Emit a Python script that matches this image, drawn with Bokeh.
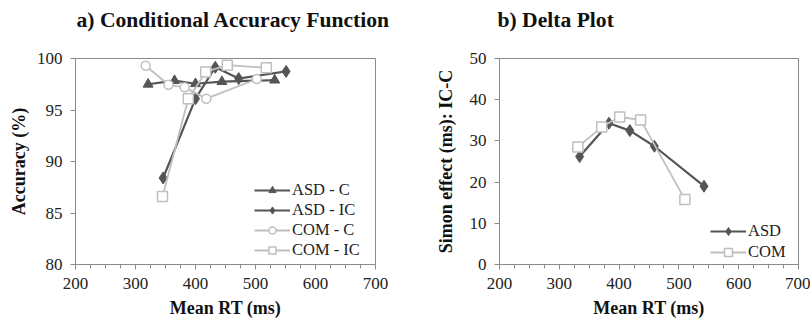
from bokeh.plotting import figure
from bokeh.layouts import row
from bokeh.models import Range1d, FixedTicker
from bokeh.embed import file_html
from bokeh.resources import INLINE

# ---- data: a) Conditional Accuracy Function ----
asd_c_rt = [321, 365, 400, 444, 532]
asd_c_acc = [97.5, 97.85, 97.55, 97.75, 97.9]
asd_ic_rt = [346, 400, 433, 472, 551]
asd_ic_acc = [88.4, 96.1, 99.15, 98.05, 98.75]
com_c_rt = [317, 355, 382, 418, 502]
com_c_acc = [99.3, 97.45, 97.2, 96.1, 98.0]
com_ic_rt = [345, 388, 417, 453, 518]
com_ic_acc = [86.6, 96.1, 98.7, 99.35, 99.1]

# ---- data: b) Delta Plot ----
asd_d_rt = [334, 383, 418, 459, 542]
asd_d_eff = [26.2, 34.3, 32.5, 28.7, 19.0]
com_d_rt = [331, 371, 401, 436, 510]
com_d_eff = [28.5, 33.4, 35.8, 35.1, 15.8]

x_ticks = [200, 300, 400, 500, 600, 700]
x_minor = [v for v in range(200, 701, 25) if v % 100 != 0]
acc_ticks = [80, 85, 90, 95, 100]
eff_ticks = [0, 10, 20, 30, 40, 50]

DARK = "#555555"
LIGHT = "#bfbfbf"
AXIS = "#8a8a8a"
FONT = "Liberation Serif"


def style(p, title, ylabel, yticks, lab_standoff, title_dx):
    # second (blank) line reserves space so the title sits high above the frame
    p.title.text = title + "\n "
    p.title.text_font = FONT
    p.title.text_font_size = "21.6px"
    p.title.text_font_style = "bold"
    p.title.text_color = "#111111"
    p.title.text_line_height = 1.1
    p.title.align = "left"
    p.title.offset = title_dx
    p.title.standoff = 0
    p.grid.visible = False
    p.outline_line_color = AXIS
    p.outline_line_width = 1
    p.background_fill_color = "white"
    p.border_fill_color = "white"
    for ax in (p.xaxis[0], p.yaxis[0]):
        ax.axis_line_color = AXIS
        ax.major_tick_line_color = AXIS
        ax.minor_tick_line_color = AXIS
        ax.major_tick_in = 0
        ax.major_tick_out = 5
        ax.minor_tick_in = 0
        ax.minor_tick_out = 4
        ax.major_label_text_font = FONT
        ax.major_label_text_font_size = "17px"
        ax.major_label_text_color = "#222222"
        ax.axis_label_text_font = FONT
        ax.axis_label_text_font_size = "18px"
        ax.axis_label_text_font_style = "bold"
        ax.axis_label_text_color = "#111111"
    p.xaxis[0].ticker = FixedTicker(ticks=x_ticks, minor_ticks=x_minor)
    p.xaxis[0].axis_label = "Mean RT (ms)"
    p.xaxis[0].major_label_standoff = 8
    p.xaxis[0].axis_label_standoff = 6
    p.yaxis[0].ticker = FixedTicker(ticks=yticks, minor_ticks=[])
    p.yaxis[0].axis_label = ylabel
    p.yaxis[0].major_label_standoff = 8
    p.yaxis[0].axis_label_standoff = lab_standoff


def style_legend(lg, loc, row_h, spacing):
    lg.location = loc
    lg.background_fill_alpha = 0
    lg.border_line_color = None
    lg.padding = 0
    lg.margin = 0
    lg.spacing = spacing
    lg.glyph_width = 36
    lg.glyph_height = row_h
    lg.label_height = row_h
    lg.label_standoff = 2
    lg.label_text_font = FONT
    lg.label_text_font_size = "16.5px"
    lg.label_text_color = "#222222"


# ---- left figure ----
p1 = figure(width=404, height=320, output_backend="svg", toolbar_location=None,
            x_range=Range1d(200, 700), y_range=Range1d(80, 100),
            min_border_left=75, min_border_right=29, min_border_top=58, min_border_bottom=56)
style(p1, "a) Conditional Accuracy Function", "Accuracy (%)", acc_ticks, 5, 1)

p1.line(asd_c_rt, asd_c_acc, line_color=DARK, line_width=2.2, legend_label="ASD - C")
p1.scatter(asd_c_rt, asd_c_acc, marker="triangle", size=10, fill_color=DARK,
           line_color=DARK, legend_label="ASD - C")
p1.line(asd_ic_rt, asd_ic_acc, line_color=DARK, line_width=2.2, legend_label="ASD - IC")
p1.scatter(asd_ic_rt, asd_ic_acc, marker="diamond", size=12, fill_color=DARK,
           line_color=DARK, legend_label="ASD - IC")
p1.line(com_c_rt, com_c_acc, line_color=LIGHT, line_width=1.8, legend_label="COM - C")
p1.scatter(com_c_rt, com_c_acc, marker="circle", size=9, fill_color="white",
           line_color=LIGHT, line_width=1.5, legend_label="COM - C")
p1.line(com_ic_rt, com_ic_acc, line_color=LIGHT, line_width=1.8, legend_label="COM - IC")
p1.scatter(com_ic_rt, com_ic_acc, marker="square", size=10, fill_color="white",
           line_color=LIGHT, line_width=1.5, legend_label="COM - IC")
style_legend(p1.legend[0], (179, 4), 18, 0)

# ---- right figure ----
p2 = figure(width=406, height=320, output_backend="svg", toolbar_location=None,
            x_range=Range1d(200, 700), y_range=Range1d(0, 50),
            min_border_left=95, min_border_right=12, min_border_top=58, min_border_bottom=56)
style(p2, "b) Delta Plot", "Simon effect (ms): IC-C", eff_ticks, 11, -2)

p2.line(asd_d_rt, asd_d_eff, line_color=DARK, line_width=2.2, legend_label="ASD")
p2.scatter(asd_d_rt, asd_d_eff, marker="diamond", size=12, fill_color=DARK,
           line_color=DARK, legend_label="ASD")
p2.line(com_d_rt, com_d_eff, line_color=LIGHT, line_width=1.8, legend_label="COM")
p2.scatter(com_d_rt, com_d_eff, marker="square", size=10, fill_color="white",
           line_color=LIGHT, line_width=1.5, legend_label="COM")
style_legend(p2.legend[0], (211, 2), 20, 1)

layout = row(p1, p2)
open("out.html", "w").write(file_html(layout, INLINE))
